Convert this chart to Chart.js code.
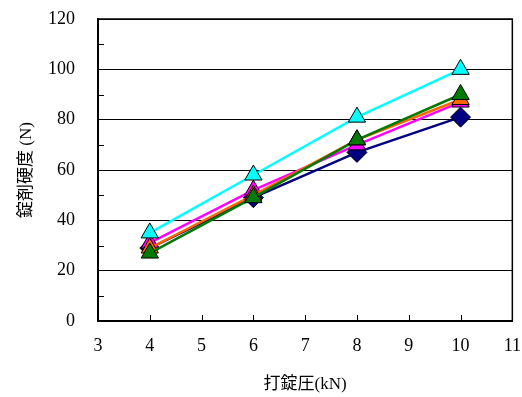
<!DOCTYPE html>
<html>
<head>
<meta charset="utf-8">
<script src="https://cdn.jsdelivr.net/npm/chart.js@4/dist/chart.umd.min.js"></script>
<style>
  html, body { margin: 0; padding: 0; background: #fff; }
  #wrap { width: 522px; height: 397px; }
</style>
</head>
<body>
<div id="wrap"><canvas id="chart" width="522" height="397"></canvas></div>
<script>
/* global Chart */

// data
const pressures = [4, 6, 8, 10];
const seriesNavy = [29, 49, 67, 81];
const seriesMagenta = [31, 52, 70, 87];
const seriesOrange = [29, 50, 72, 88];
const seriesGreen = [27, 49, 72, 90];
const seriesCyan = [35, 58, 81, 100];

const xTicks = [3, 4, 5, 6, 7, 8, 9, 10, 11];
const yTicks = [0, 20, 40, 60, 80, 100, 120];
const yMinorTicks = [10, 30, 50, 70, 90, 110];

const toPoints = (values) => values.map((v, i) => ({ x: pressures[i], y: v }));

const makeSeries = (values, color, style, order) => ({
    data: toPoints(values),
    showLine: true,
    borderColor: color,
    borderWidth: 2.5,
    backgroundColor: color,
    pointStyle: style,
    pointRadius: 10,
    pointBorderColor: '#000',
    pointBorderWidth: 1,
    pointHoverRadius: 10,
    clip: false,
    order: order
});

// inside tick marks and the plot frame
const frameTicks = {
    id: 'frameTicks',
    afterDraw: (chart) => {
        const ctx = chart.ctx;
        const area = chart.chartArea;
        const xs = chart.scales.x;
        const ys = chart.scales.y;
        ctx.save();
        ctx.strokeStyle = '#000';
        ctx.lineWidth = 1;
        ctx.beginPath();
        xTicks.forEach(t => {
            const px = Math.round(xs.getPixelForValue(t)) + 0.5;
            ctx.moveTo(px, area.bottom);
            ctx.lineTo(px, area.bottom - 6);
        });
        yMinorTicks.forEach(t => {
            const py = Math.round(ys.getPixelForValue(t)) + 0.5;
            ctx.moveTo(area.left, py);
            ctx.lineTo(area.left + 6, py);
        });
        ctx.stroke();
        ctx.lineWidth = 1.5;
        ctx.strokeRect(area.left, area.top, area.right - area.left, area.bottom - area.top);
        ctx.restore();
    }
};

const serif = { family: '"Liberation Serif", "DejaVu Serif", serif', size: 18 };
const titleFont = { family: '"Liberation Serif", "Noto Sans CJK JP", serif', size: 17 };

new Chart(document.getElementById('chart'), {
    type: 'scatter',
    data: {
        datasets: [
            makeSeries(seriesNavy, '#000080', 'rectRot', 5),
            makeSeries(seriesMagenta, '#FF00FF', 'triangle', 4),
            makeSeries(seriesOrange, '#FF6600', 'triangle', 3),
            makeSeries(seriesGreen, '#007A00', 'triangle', 2),
            makeSeries(seriesCyan, '#00FFFF', 'triangle', 1)
        ]
    },
    options: {
        responsive: false,
        animation: false,
        layout: { autoPadding: false, padding: { left: 0, right: 9, top: 19, bottom: 0 } },
        plugins: {
            legend: { display: false },
            tooltip: { enabled: false }
        },
        scales: {
            x: {
                type: 'linear',
                min: 3,
                max: 11,
                afterBuildTicks: (scale) => { scale.ticks = xTicks.map(v => ({ value: v })); },
                afterFit: (scale) => { scale.height = 76; },
                grid: { drawOnChartArea: false, tickColor: 'rgba(0,0,0,0)', tickLength: 13 },
                border: { display: true, color: '#000', width: 2 },
                ticks: { color: '#000', font: serif, padding: 1, maxRotation: 0 },
                title: {
                    display: true,
                    text: '打錠圧(kN)',
                    color: '#000',
                    font: titleFont,
                    padding: { top: 0, bottom: 2 }
                }
            },
            y: {
                type: 'linear',
                min: 0,
                max: 120,
                afterBuildTicks: (scale) => { scale.ticks = yTicks.map(v => ({ value: v })); },
                afterFit: (scale) => { scale.width = 98; },
                grid: { color: '#000', lineWidth: 1, tickColor: 'rgba(0,0,0,0)', tickLength: 20 },
                border: { display: true, color: '#000', width: 2 },
                ticks: { color: '#000', font: serif, padding: 3 },
                title: {
                    display: true,
                    text: '錠剤硬度 (N)',
                    color: '#000',
                    font: titleFont,
                    padding: { top: 16, bottom: 0 }
                }
            }
        }
    },
    plugins: [frameTicks]
});
</script>
</body>
</html>
